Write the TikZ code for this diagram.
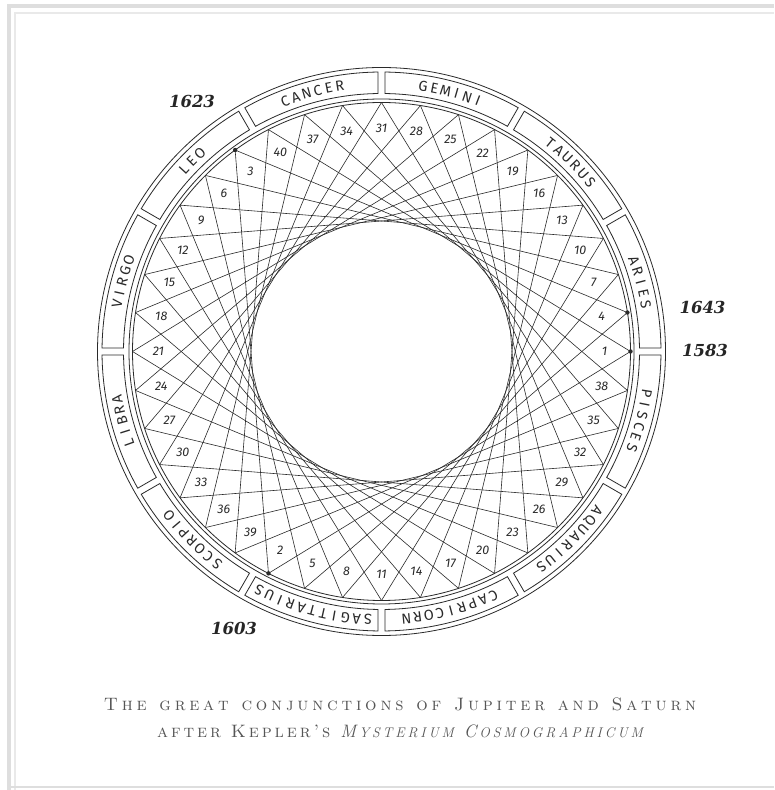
\documentclass[tikz,border=0pt]{standalone}
\usepackage{fontspec}
\newfontfamily\signfont{Fira Sans}
\newfontfamily\numfont{Fira Sans}
\newfontfamily\yearfont{DejaVu Serif}
\definecolor{ink}{HTML}{2A2A2A}
\definecolor{yearink}{HTML}{262626}
\definecolor{capgrey}{HTML}{555555}
\definecolor{framegrey}{HTML}{DEDEDE}
\definecolor{framegreyb}{HTML}{E9E9E9}
\makeatletter
\newcommand\trk[2][3.6pt]{\@tfor\trk@c:=#2\do{\trk@c\kern#1}}
\makeatother
\newcommand\wsp{\hspace{9pt}}
\newcommand\wspb{\hspace{7pt}}
\begin{document}
\begin{tikzpicture}[x=1pt,y=1pt,
  ringline/.style={draw=ink,line width=0.8pt},
  chord/.style={draw=ink,line width=0.6pt},
  numlabel/.style={font=\numfont\itshape\fontsize{12.5}{12.5}\selectfont,text=ink,inner sep=0pt},
  signletter/.style={font=\signfont\fontsize{14.5}{14.5}\selectfont,text=ink,inner sep=0pt},
  yearlabel/.style={font=\yearfont\bfseries\itshape\fontsize{16.5}{16.5}\selectfont,text=yearink,inner sep=0pt},
  captionline/.style={text=capgrey,inner sep=0pt,font=\fontsize{18}{18}\selectfont},
  dotmark/.style={fill=ink}]
\useasboundingbox (0,0) rectangle (774,790);
\fill[white] (0,0) rectangle (774,790);
% frame
\draw[framegrey,line width=4pt] (9.2,0) -- (9.2,784.2) -- (774,784.2);
\draw[framegreyb,line width=1.2pt] (15,0) -- (15,777) -- (774,777);
\draw[framegrey,line width=1.5pt] (9.2,3) -- (774,3);

\begin{scope}[shift={(381.5,438.5)}]
  \draw[ringline] (0,0) circle[radius=284];
  \draw[ringline] (0,0) circle[radius=252.5];
  \draw[ringline] (0,0) circle[radius=249];
  \foreach \k in {0,...,11}{
    \pgfmathsetmacro{\angA}{30*\k+asin(3.5/258)}
    \pgfmathsetmacro{\angB}{30*\k+30-asin(3.5/258)}
    \pgfmathsetmacro{\angC}{30*\k+30-asin(3.5/279.5)}
    \pgfmathsetmacro{\angD}{30*\k+asin(3.5/279.5)}
    \draw[ringline] (\angA:258) arc[start angle=\angA,end angle=\angB,radius=258]
      -- (\angC:279.5) arc[start angle=\angC,end angle=\angD,radius=279.5] -- cycle;
  }
  % conjunction points
  \foreach \p in {0,...,39}{
    \coordinate (P\p) at ({\p*9}:249);
  }
  \foreach \p in {0,...,39}{
    \pgfmathtruncatemacro{\q}{mod(\p+13,40)}
    \draw[chord] (P\p) -- (P\q);
  }
  \foreach \p in {0,...,39}{
    \pgfmathtruncatemacro{\n}{\p<14 ? 3*\p+1 : (\p<27 ? 3*(\p-14)+3 : 3*(\p-27)+2)}
    \node[numlabel] (N\p) at ({\p*9}:223) {\n};
  }
  \foreach \p in {0,1,14,27}{
    \fill[dotmark] (P\p) circle[radius=2.2];
  }
  % sign names, hand-lettered with even spacing
  \foreach \k/\w/\nn in {0/{A,R,I,E,S}/5,1/{T,A,U,R,U,S}/6,2/{G,E,M,I,N,I}/6,3/{C,A,N,C,E,R}/6,
      4/{L,E,O}/3,5/{V,I,R,G,O}/5,6/{L,I,B,R,A}/5,7/{S,C,O,R,P,I,O}/7,
      8/{S,A,G,I,T,T,A,R,I,U,S}/11,9/{C,A,P,R,I,C,O,R,N}/9,10/{A,Q,U,A,R,I,U,S}/8,11/{P,I,S,C,E,S}/6}{
    \foreach \L [count=\i] in \w {
      \pgfmathsetmacro{\th}{30*\k+15+(\nn+1)/2*2.42-\i*2.42}
      \node[signletter,rotate=\th-90,anchor=base] (S\k-\i) at (\th:263.5) {\L};
    }
  }
\end{scope}

% years
\node[yearlabel] (y1623) at (192,688) {1623};
\node[yearlabel] (y1643) at (702.5,483) {1643};
\node[yearlabel] (y1583) at (705,440) {1583};
\node[yearlabel] (y1603) at (234,161.5) {1603};

% caption
\node[captionline] (cap1) at (400,86)
  {\textsc{\trk[3.8pt]{The}\wsp\trk[3.8pt]{great}\wsp\trk[3.8pt]{conjunctions}\wsp\trk[3.8pt]{of}\wsp\trk[3.8pt]{Jupiter}\wsp\trk[3.8pt]{and}\wsp\trk[3.8pt]{Saturn}}\unkern};
\node[captionline] (cap2) at (400,59)
  {\textsc{\trk[2.9pt]{after}\wspb\trk[2.9pt]{Kepler’s}}\wspb\textit{\trk[2.9pt]{M}{\fontsize{14}{14}\selectfont\trk[2.9pt]{YSTERIUM}}\wspb\trk[2.9pt]{C}{\fontsize{14}{14}\selectfont\trk[2.9pt]{OSMOGRAPHICUM}}}\unkern};
\end{tikzpicture}
\end{document}
